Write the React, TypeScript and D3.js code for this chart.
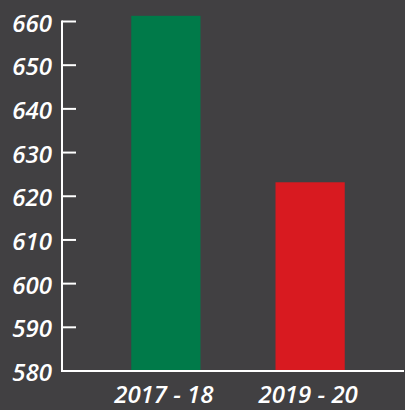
import React from 'react';
import * as d3 from 'd3';

const categories = ['2017 - 18', '2019 - 20'];
const values = [661.3, 623.2];
const barColors = ['#007a49', '#d81a20'];
const yTicks = [580, 590, 600, 610, 620, 630, 640, 650, 660];

export default function App() {
  const width = 405;
  const height = 410;
  const axisX = 62;
  const baseY = 371;

  const yScale = d3.scaleLinear().domain([580, 660]).range([baseY, 21.5]);

  const xScale = d3
    .scaleBand()
    .domain(categories)
    .range([axisX, 414])
    .paddingInner(0.52)
    .paddingOuter(0.48);

  const font = "'Open Sans', 'DejaVu Sans', sans-serif";

  return (
    <svg
      width={width}
      height={height}
      style={{ position: 'absolute', left: 0, top: 0 }}
    >
      <rect x={0} y={0} width={width} height={height} fill="#414042" />

      {categories.map((c, i) => (
        <rect
          key={c}
          x={xScale(c) as number}
          y={yScale(values[i])}
          width={xScale.bandwidth()}
          height={baseY - yScale(values[i])}
          fill={barColors[i]}
        />
      ))}

      {/* y axis */}
      <line x1={axisX} x2={axisX} y1={yScale(660) - 1} y2={baseY + 1} stroke="#fff" strokeWidth={2} />
      {yTicks.map((t) => (
        <g key={t}>
          <line x1={axisX} x2={76} y1={yScale(t)} y2={yScale(t)} stroke="#fff" strokeWidth={2} />
          <text
            x={52}
            y={yScale(t) + 10}
            textAnchor="end"
            fill="#fff"
            fontFamily={font}
            fontStyle="italic"
            fontWeight={600}
            fontSize={24}
          >
            {t}
          </text>
        </g>
      ))}

      {/* x axis */}
      <line x1={axisX - 1} x2={404} y1={baseY} y2={baseY} stroke="#fff" strokeWidth={2} />
      {categories.map((c) => (
        <text
          key={c}
          x={(xScale(c) as number) + xScale.bandwidth() / 2 - 2}
          y={403}
          textAnchor="middle"
          fill="#fff"
          fontFamily={font}
          fontStyle="italic"
          fontWeight={600}
          fontSize={24}
        >
          {c}
        </text>
      ))}
    </svg>
  );
}
